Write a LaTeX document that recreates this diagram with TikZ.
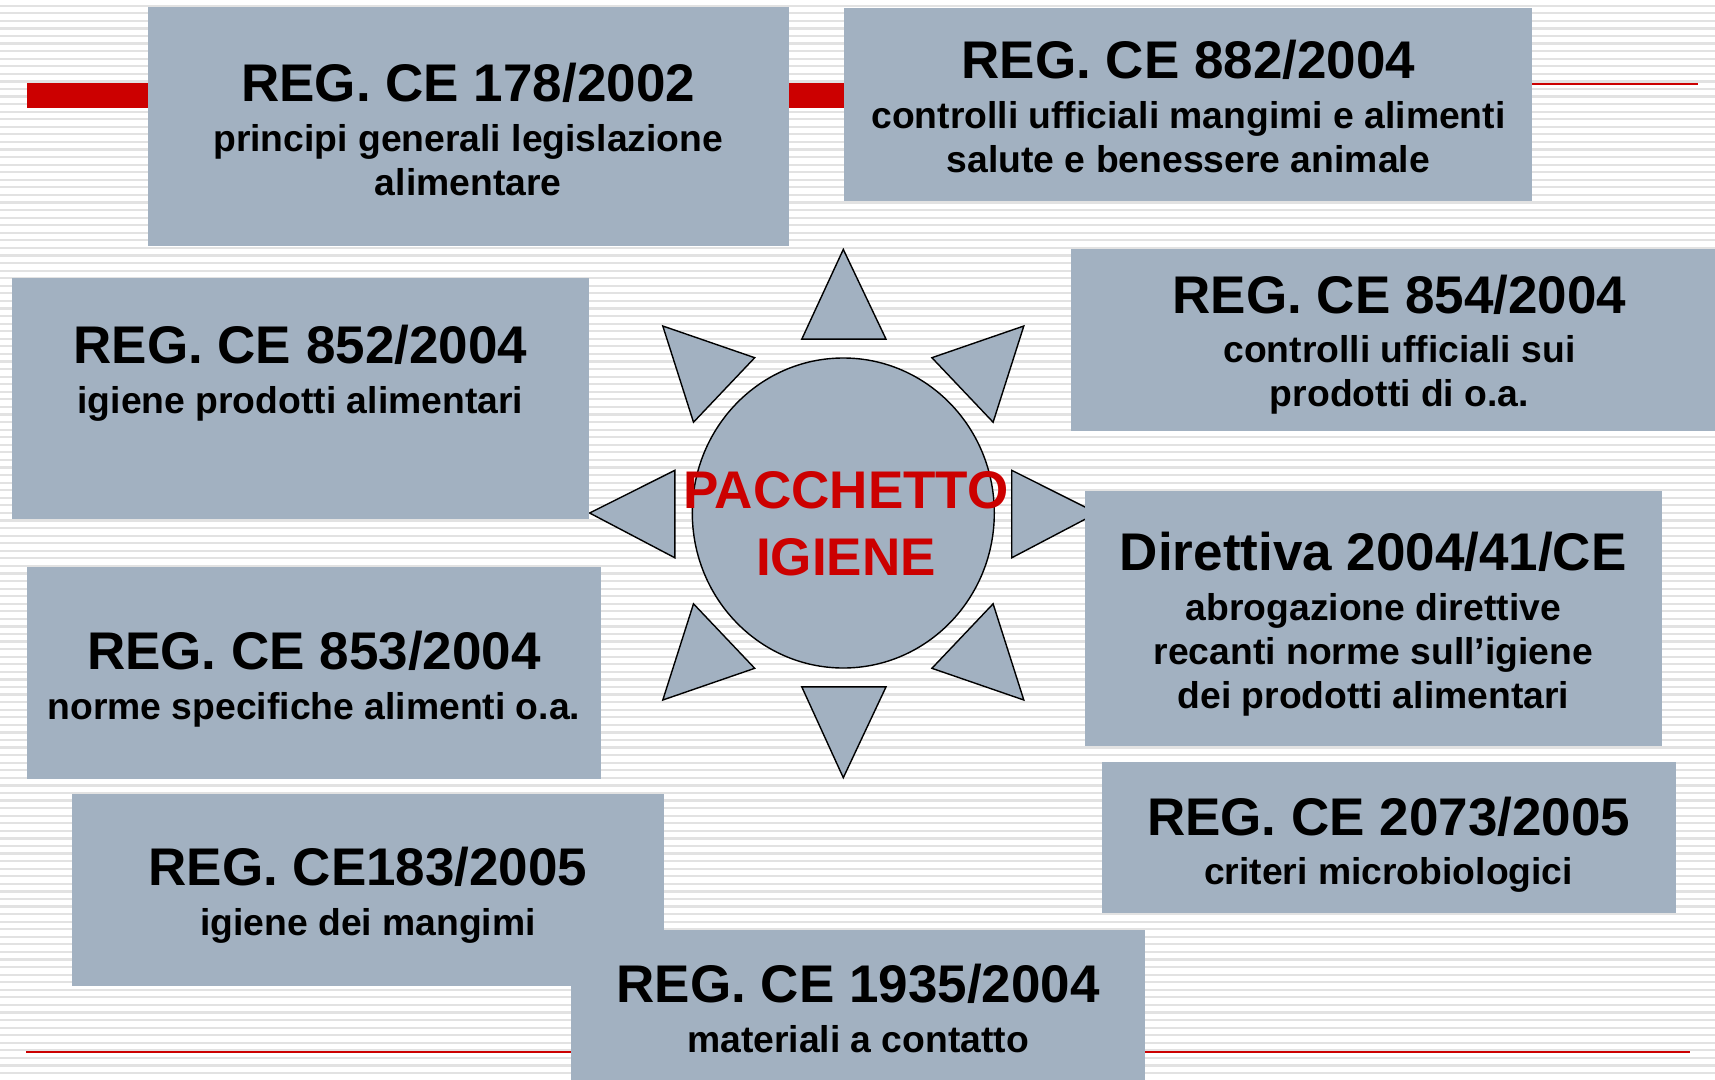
\documentclass[tikz,border=0pt]{standalone}
\usepackage{fontspec}
\setmainfont{Liberation Sans}[Ligatures=CommonOff]
\usetikzlibrary{shapes.geometric}
\definecolor{grigio}{RGB}{162,177,193}
\definecolor{rosso}{RGB}{204,0,0}
\definecolor{riga}{RGB}{226,226,226}
\newcommand{\titolo}[1]{{\fontsize{53}{53}\selectfont #1}\\[5.5pt]}

\begin{document}
\begin{tikzpicture}[x=1pt,y=-1pt]
        \tikzstyle{riquadro}=[rectangle,fill=grigio,inner sep=0pt]
        \tikzstyle{testo}=[inner sep=0pt,align=center,font=\fontsize{37.3}{44}\selectfont\bfseries]
        \tikzstyle{raggio}=[draw=black,line width=1.4,fill=grigio,line join=miter]
        \useasboundingbox (0,0) rectangle (1715,1079);
        % sfondo a righe
        \fill[white] (0,0) rectangle (1715,1079);
        \foreach \y in {5.7,13.27,...,1079}
            \draw[riga,line width=2.2] (0,\y) -- (1715,\y);
        % linee rosse
        \fill[rosso] (27,83) rectangle (850,108);
        \draw[rosso,line width=2.3] (1530,84.3) -- (1698,84.3);
        \draw[rosso,line width=1.5] (26,1052) -- (1690,1052);
        % raggi
        \draw[raggio] (843.3,249.4) -- (886.0,339.1) -- (801.8,339.1) -- cycle;
        \draw[raggio] (843.3,777.7) -- (886.0,686.9) -- (801.8,686.9) -- cycle;
        \draw[raggio] (589.6,513) -- (674.9,470.3) -- (674.9,557.8) -- cycle;
        \draw[raggio] (1097,513) -- (1011.7,470.3) -- (1011.7,557.8) -- cycle;
        \draw[raggio] (662.8,326) -- (754.7,357.7) -- (693.5,422.2) -- cycle;
        \draw[raggio] (1023.8,326) -- (931.9,357.7) -- (993.1,422.2) -- cycle;
        \draw[raggio] (662.8,700) -- (754.7,668.3) -- (693.5,603.8) -- cycle;
        \draw[raggio] (1023.8,700) -- (931.9,668.3) -- (993.1,603.8) -- cycle;
        \node[ellipse,draw,line width=1.4,fill=grigio,minimum width=302,minimum height=310,inner sep=0pt] (sole) at (843.3,513) {};
        \node[align=center,text=rosso,font=\fontsize{53}{67}\selectfont\bfseries] (pacchetto) at (846,524) {PACCHETTO\\IGIENE};
        % regolamenti
        \node[riquadro,minimum width=641,minimum height=239.5] (r178) at (468.2,126.4) {};
        \node[riquadro,minimum width=688,minimum height=193.6] (r882) at (1188.4,104.5) {};
        \node[riquadro,minimum width=657,minimum height=181.6] (r854) at (1399.4,340.2) {};
        \node[riquadro,minimum width=576.5,minimum height=240.7] (r852) at (300.3,398.2) {};
        \node[riquadro,minimum width=576.4,minimum height=255] (d41) at (1373.3,618.6) {};
        \node[riquadro,minimum width=573.2,minimum height=212.2] (r853) at (313.9,672.7) {};
        \node[riquadro,minimum width=574.2,minimum height=151] (r2073) at (1388.6,837.9) {};
        \node[riquadro,minimum width=591.7,minimum height=191.4] (r183) at (368,889.8) {};
        \node[riquadro,minimum width=574.2,minimum height=155.6] (r1935) at (858.1,1007.4) {};
        % testi
        \node[testo] (t178) at ([yshift=-3.3pt]r178.center) {\titolo{REG. CE 178/2002}principi generali legislazione\\alimentare};
        \node[testo] (t882) at ([yshift=-2.2pt]r882.center) {\titolo{REG. CE 882/2004}controlli ufficiali mangimi e alimenti\\salute e benessere animale};
        \node[testo] (t854) at ([yshift=-4.4pt]r854.center) {\titolo{REG. CE 854/2004}controlli ufficiali sui\\prodotti di o.a.};
        \node[testo] (t852) at (300.3,373) {\titolo{REG. CE 852/2004}igiene prodotti alimentari};
        \node[testo] (t41) at ([yshift=-5.5pt]d41.center) {\titolo{Direttiva 2004/41/CE}abrogazione direttive\\recanti norme sull’igiene\\dei prodotti alimentari};
        \node[testo] (t853) at ([yshift=-6.6pt]r853.center) {\titolo{REG. CE 853/2004}norme specifiche alimenti o.a.};
        \node[testo] (t2073) at ([yshift=-6.6pt]r2073.center) {\titolo{REG. CE 2073/2005}criteri microbiologici};
        \node[testo] (t183) at ([yshift=-5.5pt]r183.center) {\titolo{REG. CE183/2005}igiene dei mangimi};
        \node[testo] (t1935) at ([yshift=-1.1pt]r1935.center) {\titolo{REG. CE 1935/2004}materiali a contatto};
\end{tikzpicture}
\end{document}
